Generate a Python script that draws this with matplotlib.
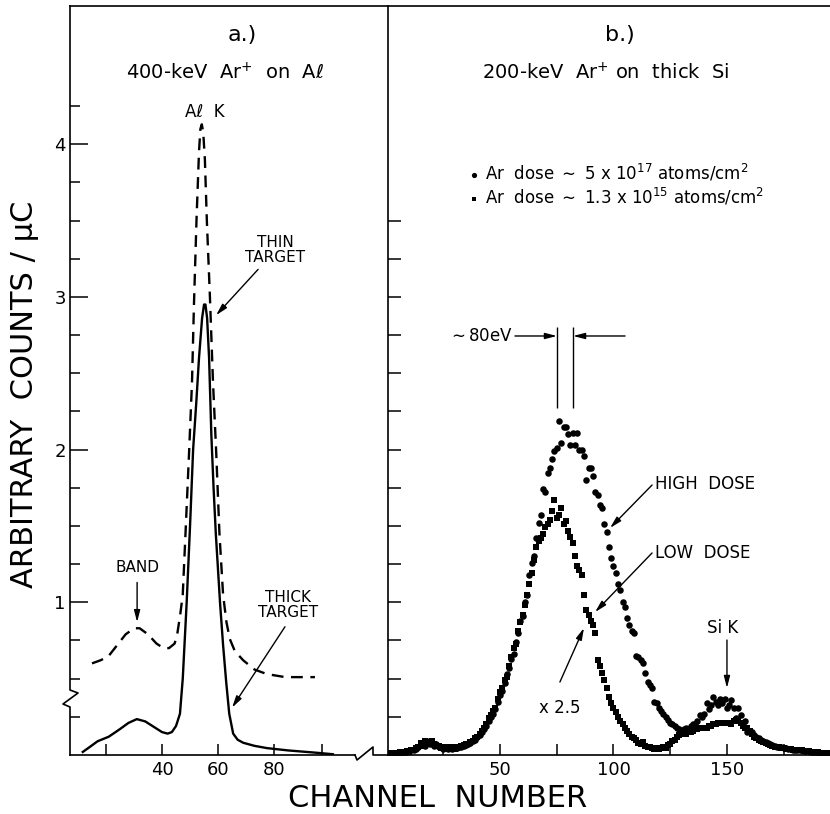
import numpy as np
import matplotlib.pyplot as plt
from matplotlib.lines import Line2D

# panel a: Al K spectra (400 keV Ar+ on Al)
thin_ch = [15, 18, 20.8, 24, 27, 30, 32, 35, 38, 40.5, 42.5, 44.5, 45.5, 46.5, 47.4, 48.5,
           49.7, 50.7, 51.4, 52.3, 53.2, 53.7, 54.2, 54.7, 55.3, 56.0, 57.1, 58.2, 59.3, 60.5,
           61.8, 63, 64.2, 66, 69, 73, 77.4, 84, 94.6]
thin_val = [0.60, 0.62, 0.645, 0.72, 0.79, 0.83, 0.83, 0.79, 0.73, 0.70, 0.70, 0.73, 0.80, 0.92,
            1.05, 1.5, 2.0, 2.44, 2.95, 3.5, 3.95, 4.10, 4.13, 4.08, 3.90, 3.5, 3.0, 2.44, 2.0,
            1.45, 1.05, 0.87, 0.76, 0.68, 0.62, 0.56, 0.53, 0.51, 0.51]

thick_ch = [11.7, 14, 17, 21, 25, 28, 31, 34, 37, 40, 42, 43.5, 45, 46.4, 47.4, 48.8, 50, 51.1,
            52.2, 53.2, 54.3, 55.0, 55.5, 56.1, 56.8, 57.6, 58.4, 59.2, 60.7, 61.8, 62.9, 64,
            65.4, 67, 69, 73, 77.5, 85, 95, 101]
thick_val = [0.02, 0.05, 0.09, 0.12, 0.17, 0.21, 0.235, 0.22, 0.185, 0.15, 0.14, 0.15, 0.19, 0.27,
             0.5, 1.0, 1.5, 2.0, 2.3, 2.6, 2.86, 2.95, 2.95, 2.86, 2.6, 2.1, 1.75, 1.45, 1.0,
             0.72, 0.48, 0.27, 0.14, 0.10, 0.08, 0.06, 0.045, 0.03, 0.015, 0.005]

# panel b: 200 keV Ar+ on thick Si, channels 1..195
channels = np.arange(1, 196)
high_dose = [
    0.010, 0.010, 0.012, 0.010, 0.015, 0.015, 0.020, 0.020, 0.020, 0.025,
    0.030, 0.030, 0.040, 0.050, 0.070, 0.080, 0.060, 0.090, 0.070, 0.080,
    0.060, 0.070, 0.050, 0.050, 0.040, 0.050, 0.040, 0.045, 0.040, 0.050,
    0.045, 0.050, 0.055, 0.060, 0.065, 0.070, 0.080, 0.090, 0.100, 0.120,
    0.130, 0.150, 0.170, 0.190, 0.220, 0.250, 0.270, 0.300, 0.350, 0.390,
    0.420, 0.470, 0.530, 0.570, 0.630, 0.660, 0.740, 0.800, 0.880, 0.910,
    1.000, 1.050, 1.180, 1.260, 1.300, 1.420, 1.520, 1.570, 1.740, 1.720,
    1.850, 1.880, 1.940, 1.990, 2.010, 2.190, 2.040, 2.150, 2.150, 2.100,
    2.030, 2.110, 2.030, 2.110, 2.000, 2.000, 1.960, 1.800, 1.880, 1.880,
    1.830, 1.720, 1.700, 1.640, 1.620, 1.510, 1.460, 1.360, 1.290, 1.240,
    1.190, 1.120, 1.080, 1.000, 0.970, 0.900, 0.850, 0.810, 0.800, 0.650,
    0.640, 0.620, 0.600, 0.540, 0.480, 0.460, 0.440, 0.350, 0.340, 0.310,
    0.290, 0.270, 0.250, 0.230, 0.210, 0.200, 0.190, 0.180, 0.170, 0.160,
    0.170, 0.180, 0.170, 0.190, 0.200, 0.200, 0.220, 0.260, 0.250, 0.270,
    0.340, 0.300, 0.330, 0.380, 0.350, 0.330, 0.370, 0.340, 0.370, 0.310,
    0.330, 0.360, 0.310, 0.240, 0.310, 0.260, 0.210, 0.220, 0.150, 0.160,
    0.150, 0.130, 0.120, 0.110, 0.100, 0.090, 0.085, 0.080, 0.070, 0.065,
    0.060, 0.055, 0.050, 0.050, 0.045, 0.045, 0.040, 0.040, 0.035, 0.035,
    0.030, 0.030, 0.030, 0.025, 0.025, 0.025, 0.020, 0.020, 0.020, 0.018,
    0.015, 0.015, 0.015, 0.012, 0.010]
low_dose = [
    0.010, 0.012, 0.010, 0.015, 0.010, 0.020, 0.015, 0.020, 0.025, 0.020,
    0.030, 0.035, 0.045, 0.055, 0.080, 0.060, 0.090, 0.070, 0.080, 0.090,
    0.070, 0.060, 0.060, 0.045, 0.050, 0.040, 0.050, 0.040, 0.050, 0.040,
    0.050, 0.050, 0.060, 0.065, 0.070, 0.075, 0.085, 0.090, 0.110, 0.120,
    0.140, 0.160, 0.180, 0.200, 0.240, 0.260, 0.290, 0.310, 0.370, 0.410,
    0.440, 0.490, 0.510, 0.580, 0.640, 0.700, 0.730, 0.810, 0.870, 0.920,
    0.980, 1.050, 1.120, 1.190, 1.280, 1.360, 1.400, 1.420, 1.450, 1.490,
    1.510, 1.540, 1.600, 1.670, 1.550, 1.570, 1.620, 1.510, 1.530, 1.470,
    1.430, 1.390, 1.300, 1.240, 1.210, 1.180, 1.050, 0.950, 0.920, 0.880,
    0.850, 0.800, 0.620, 0.580, 0.540, 0.490, 0.440, 0.380, 0.340, 0.310,
    0.280, 0.250, 0.220, 0.200, 0.180, 0.160, 0.140, 0.120, 0.110, 0.100,
    0.080, 0.070, 0.085, 0.060, 0.055, 0.050, 0.045, 0.040, 0.045, 0.040,
    0.045, 0.050, 0.045, 0.065, 0.070, 0.090, 0.100, 0.120, 0.130, 0.150,
    0.140, 0.140, 0.150, 0.150, 0.160, 0.170, 0.170, 0.180, 0.180, 0.180,
    0.180, 0.190, 0.190, 0.200, 0.200, 0.210, 0.210, 0.210, 0.210, 0.210,
    0.210, 0.200, 0.220, 0.230, 0.220, 0.210, 0.190, 0.180, 0.180, 0.160,
    0.140, 0.120, 0.110, 0.100, 0.090, 0.085, 0.080, 0.070, 0.065, 0.060,
    0.055, 0.050, 0.050, 0.045, 0.045, 0.040, 0.040, 0.040, 0.035, 0.035,
    0.030, 0.030, 0.030, 0.025, 0.025, 0.025, 0.020, 0.020, 0.020, 0.018,
    0.015, 0.015, 0.012, 0.012, 0.010]

W, H = 830, 814
fig = plt.figure(figsize=(W / 100, H / 100), dpi=100)

def fx(x):
    return x / W

def fy(y):
    return 1 - y / H

ax1 = fig.add_axes([fx(70), fy(755), 285 / W, 749 / H])
ax2 = fig.add_axes([fx(388), fy(755), 442 / W, 749 / H])

for ax in (ax1, ax2):
    ax.set_ylim(0, 4.905)
    ax.spines['top'].set_visible(False)
    ax.spines['right'].set_visible(False)
    for s in ax.spines.values():
        s.set_linewidth(1.2)
ax1.spines['left'].set_visible(False)

# panel a
ax1.set_xlim(7.14, 108.9)
ax1.plot(thin_ch, thin_val, color='k', lw=1.7, dashes=(5, 3.2))
ax1.plot(thick_ch, thick_val, color='k', lw=1.7)
ax1.set_xticks([20, 40, 60, 80, 97])
ax1.set_xticklabels(['', '40', '60', '80', ''])
ax1.set_yticks([1, 2, 3, 4])
ax1.set_yticks(np.arange(0.25, 4.3, 0.25), minor=True)
ax1.tick_params(axis='x', direction='in', length=8, width=1.1, labelsize=13, pad=4)
ax1.tick_params(axis='y', which='major', direction='in', length=13, width=1.1, labelsize=13, pad=3)
ax1.tick_params(axis='y', which='minor', direction='in', length=7, width=1.1)

ax1.text(68.6, 4.715, 'a.)', fontsize=16, ha='center', va='center')
ax1.text(62.5, 4.47, '400-keV  Ar$^{+}$  on  Aℓ', fontsize=14, ha='center', va='center')
ax1.text(55.4, 4.21, 'Aℓ  K', fontsize=12, ha='center', va='center')
ax1.text(80.4, 3.31, 'THIN\nTARGET', fontsize=11, ha='center', va='center', linespacing=1.0)
ax1.text(31.1, 1.23, 'BAND', fontsize=11, ha='center', va='center')
ax1.text(85, 0.98, 'THICK\nTARGET', fontsize=11, ha='center', va='center', linespacing=1.0)

arrow = dict(arrowstyle='-|>,head_length=0.7,head_width=0.18', color='k', lw=1,
             shrinkA=0, shrinkB=0)
ax1.annotate('', xy=(59.3, 2.88), xytext=(74.3, 3.18), arrowprops=arrow)
ax1.annotate('', xy=(31.1, 0.87), xytext=(31.1, 1.13), arrowprops=arrow)
ax1.annotate('', xy=(65, 0.31), xytext=(83.9, 0.84), arrowprops=arrow)

# panel b
ax2.set_xlim(0.66, 195.4)
ax2.scatter(channels, high_dose, s=22, marker='o', color='k', linewidths=0,
            label='Ar  dose $\\sim$ 5 x 10$^{17}$ atoms/cm$^2$')
ax2.scatter(channels, low_dose, s=20, marker='s', color='k', linewidths=0,
            label='Ar  dose $\\sim$ 1.3 x 10$^{15}$ atoms/cm$^2$')
ax2.set_xticks([25, 50, 75, 100, 125, 150, 175])
ax2.set_xticklabels(['', '50', '', '100', '', '150', ''])
ax2.set_yticks(np.arange(0.25, 3.6, 0.25))
ax2.tick_params(axis='x', direction='in', length=8, width=1.1, labelsize=13, pad=4)
ax2.tick_params(axis='y', direction='in', length=9, width=1.1, labelleft=False)

ax2.legend(loc='upper left', bbox_to_anchor=(0.16, 0.80), frameon=False, fontsize=12,
           handletextpad=0.2, labelspacing=0.15, borderaxespad=0, handlelength=1.0,
           markerscale=0.8)

ax2.text(102.9, 4.715, 'b.)', fontsize=16, ha='center', va='center')
ax2.text(96.7, 4.47, '200-keV  Ar$^{+}$ on  thick  Si', fontsize=14, ha='center', va='center')

ax2.vlines([75.1, 82.2], 2.27, 2.80, color='k', lw=1)
ax2.text(55.7, 2.744, '$\\sim$80eV', fontsize=12, ha='right', va='center')
ax2.annotate('', xy=(75.1, 2.744), xytext=(56.6, 2.744), arrowprops=arrow)
ax2.annotate('', xy=(82.2, 2.744), xytext=(105.1, 2.744), arrowprops=arrow)

ax2.text(118.3, 1.775, 'HIGH  DOSE', fontsize=12, ha='left', va='center')
ax2.annotate('', xy=(98.5, 1.487), xytext=(117, 1.768), arrowprops=arrow)
ax2.text(118.3, 1.323, 'LOW  DOSE', fontsize=12, ha='left', va='center')
ax2.annotate('', xy=(91.9, 0.936), xytext=(117, 1.323), arrowprops=arrow)
ax2.text(76.4, 0.308, 'x 2.5', fontsize=12, ha='center', va='center')
ax2.annotate('', xy=(87, 0.832), xytext=(76.4, 0.478), arrowprops=arrow)
ax2.text(148.2, 0.832, 'Si K', fontsize=12, ha='center', va='center')
ax2.annotate('', xy=(150, 0.439), xytext=(150, 0.753), arrowprops=arrow)

# frame: top line, broken left axis, broken channel axis
def fig_line(xs, ys):
    fig.add_artist(Line2D([fx(x) for x in xs], [fy(y) for y in ys], color='k', lw=1.2,
                          transform=fig.transFigure))

fig_line([70, 830], [6, 6])
fig_line([70, 70, 78, 63, 70, 70], [6, 690, 693, 704, 707, 755])
fig_line([355, 357, 373, 373, 388], [755, 760, 747, 755, 755])

fig.text(fx(25), fy(394), 'ARBITRARY  COUNTS / μC', rotation=90, fontsize=22,
         ha='center', va='center')
fig.text(fx(438), fy(807), 'CHANNEL  NUMBER', fontsize=22, ha='center', va='baseline')

fig.savefig('out.png', dpi=100)
